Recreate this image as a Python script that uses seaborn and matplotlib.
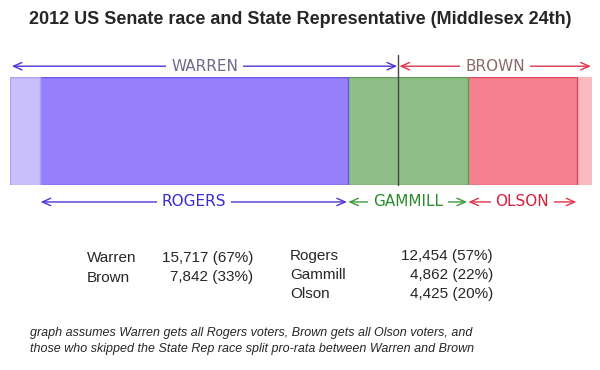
"""
2012 US Senate race vs State Rep (Middlesex 24th) - stacked bar with arrows
"""
import matplotlib
matplotlib.use('Agg')
import matplotlib.pyplot as plt
import matplotlib.transforms as mtransforms
import numpy as np
import seaborn as sns

# senate and state rep results
senate_names = ['Warren', 'Brown']
senate_votes = [15717, 7842]
senate_pct = [67, 33]

rep_names = ['Rogers', 'Gammill', 'Olson']
rep_votes = [12454, 4862, 4425]
rep_pct = [57, 22, 20]

# bar segments, left to right (skipped voters split pro-rata)
segment_names = ['Skipped (Warren)', 'Rogers', 'Gammill', 'Olson', 'Skipped (Brown)']
segment_votes = [1213, 12454, 4862, 4425, 605]
segment_colors = ['#c9bffa', '#957ffb', '#8fbf86', '#f6828f', '#fbb9c1']
segment_edges = ['#b0a4f0', '#6a55e0', '#5f9a58', '#e0465e', '#fbb9c1']

footnote = ('graph assumes Warren gets all Rogers voters, Brown gets all Olson voters, and\n'
            'those who skipped the State Rep race split pro-rata between Warren and Brown')

sns.set_theme(style='white')
plt.rcParams['font.family'] = ['Liberation Sans', 'DejaVu Sans']

fig = plt.figure(figsize=(6, 3.7), dpi=100)
ax = fig.add_axes([10 / 600, 1 - 185 / 370, 582 / 600, 108 / 370])

cum = np.cumsum(segment_votes)
total = cum[-1]

# draw cumulative bars from widest to narrowest so they stack
for i in range(len(cum) - 1, -1, -1):
    sns.barplot(x=[cum[i]], y=[''], orient='h', color=segment_colors[i],
                edgecolor=segment_edges[i], linewidth=1, width=1,
                errorbar=None, saturation=1, ax=ax, zorder=6)

ax.set_xlim(0, total)
ax.set_ylim(0.5, -0.5)
ax.axis('off')

warren_total = senate_votes[0]
ax.axvline(warren_total, ymin=0, ymax=1.2, color='#444444', lw=1, clip_on=False, zorder=7)

trans = mtransforms.blended_transform_factory(ax.transData, ax.transAxes)
pad = total * 0.004


def arrow_label(x0, x1, y, label, line_color, text_color):
    ax.annotate('', xy=(x1, y), xytext=(x0, y), xycoords=trans, textcoords=trans,
                arrowprops=dict(arrowstyle='<->,head_length=0.5,head_width=0.22',
                                color=line_color, lw=1, shrinkA=0, shrinkB=0),
                annotation_clip=False, zorder=3)
    ax.text((x0 + x1) / 2, y, label, transform=trans, ha='center', va='center',
            fontsize=11, color=text_color, zorder=4, family=['DejaVu Sans'],
            bbox=dict(facecolor='white', edgecolor='none', pad=3.5))


# senate arrows on top
arrow_label(pad * 0.8, warren_total - pad * 0.5, 1.10, 'WARREN', '#4a35d8', '#6e6a8c')
arrow_label(warren_total + pad * 0.5, total - pad * 0.5, 1.10, 'BROWN', '#e0344c', '#8a6a6c')

# state rep arrows below
edges = np.concatenate([[0], cum])
rep_text_colors = ['#3d2ad2', '#2b8a2b', '#d61f3c']
rep_line_colors = ['#4a35d8', '#3a9a3a', '#e0344c']
for j, name in enumerate(rep_names):
    x0, x1 = edges[j + 1], edges[j + 2]
    arrow_label(x0 + pad * 0.3, x1 - pad * 0.3, -0.157, name.upper(),
                rep_line_colors[j], rep_text_colors[j])

fig.text(0.5, 1 - 20 / 370, '2012 US Senate race and State Representative (Middlesex 24th)',
         ha='center', va='center', fontsize=13, fontweight='bold')

# results table
for k, name in enumerate(senate_names):
    y = 1 - (258 + k * 19.5) / 370
    fig.text(87 / 600, y, name, ha='left', va='center', fontsize=11)
    fig.text(253 / 600, y, f'{senate_votes[k]:,} ({senate_pct[k]}%)',
             ha='right', va='center', fontsize=11)

for k, name in enumerate(rep_names):
    y = 1 - (256 + k * 19) / 370
    fig.text(290 / 600, y, name, ha='left', va='center', fontsize=11)
    fig.text(493 / 600, y, f'{rep_votes[k]:,} ({rep_pct[k]}%)',
             ha='right', va='center', fontsize=11)

fig.text(30 / 600, 1 - 341 / 370, footnote, ha='left', va='center', fontsize=9,
         style='italic', linespacing=1.55)

fig.savefig('out.png', dpi=100)
